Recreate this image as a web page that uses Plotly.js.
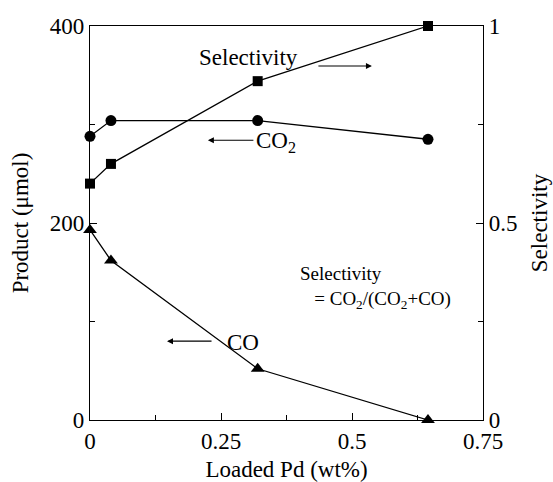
<!DOCTYPE html>
<html>
<head>
<meta charset="utf-8">
<script src="https://cdn.plot.ly/plotly-3.0.1.min.js"></script>
<style>html,body{margin:0;padding:0;background:#fff;}#chart{width:553px;height:482px;}</style>
</head>
<body>
<div id="chart"></div>
<script>
// Data
var loadedPd = [0, 0.04, 0.32, 0.645];
var co2Product = [288, 304, 304, 285];
var coProduct = [193, 162, 52, 0];
var selectivity = [0.60, 0.65, 0.86, 1.0];

var xTickVals = [0, 0.25, 0.5, 0.75];
var xTickText = ['0', '0.25', '0.5', '0.75'];
var yTickVals = [0, 200, 400];
var y2TickVals = [0, 0.5, 1];
var y2TickText = ['0', '0.5', '1'];

var FONT = 'Liberation Serif, Times New Roman, Times, serif';
var FS = 23;
var line = {color: '#000', width: 1.3};

var traces = [
  {x: loadedPd, y: co2Product, mode: 'lines+markers', name: 'CO2', cliponaxis: false,
   line: line, marker: {symbol: 'circle', size: 11, color: '#000'}},
  {x: loadedPd, y: coProduct, mode: 'lines+markers', name: 'CO', cliponaxis: false,
   line: line, marker: {symbol: 'triangle-up', size: 12, color: '#000'}},
  {x: loadedPd, y: selectivity, yaxis: 'y2', mode: 'lines+markers', name: 'Selectivity', cliponaxis: false,
   line: line, marker: {symbol: 'square', size: 10, color: '#000'}}
];

function arrow(x, y, ax) {
  return {x: x, y: y, xref: 'x', yref: 'y', text: '', showarrow: true,
    ax: ax, ay: 0, arrowhead: 2, arrowsize: 1, arrowwidth: 1.2, arrowcolor: '#000'};
}

var layout = {
  width: 553, height: 482,
  margin: {l: 90, r: 70, t: 26, b: 62},
  paper_bgcolor: '#fff', plot_bgcolor: '#fff',
  showlegend: false,
  font: {family: FONT, size: FS, color: '#000'},
  xaxis: {
    range: [0, 0.75], tickvals: xTickVals, ticktext: xTickText,
    ticks: 'inside', ticklen: 7, tickwidth: 1, tickcolor: '#000',
    minor: {dtick: 0.125, tick0: 0, ticks: 'inside', ticklen: 5, tickcolor: '#000'},
    showline: true, linecolor: '#000', linewidth: 1.2, mirror: true,
    showgrid: false, zeroline: false,
    tickfont: {family: FONT, size: FS},
    title: {text: 'Loaded Pd (wt%)', font: {family: FONT, size: FS}, standoff: 9}
  },
  yaxis: {
    range: [0, 400], tickvals: yTickVals,
    ticks: 'inside', ticklen: 7, tickwidth: 1, tickcolor: '#000',
    minor: {dtick: 100, tick0: 0, ticks: 'inside', ticklen: 5, tickcolor: '#000'},
    showline: true, linecolor: '#000', linewidth: 1.2,
    showgrid: false, zeroline: false,
    tickfont: {family: FONT, size: FS},
    title: {text: 'Product (μmol)', font: {family: FONT, size: FS}, standoff: 14}
  },
  yaxis2: {
    overlaying: 'y', side: 'right', range: [0, 1],
    tickvals: y2TickVals, ticktext: y2TickText,
    ticks: 'inside', ticklen: 7, tickwidth: 1, tickcolor: '#000',
    minor: {dtick: 0.25, tick0: 0, ticks: 'inside', ticklen: 5, tickcolor: '#000'},
    showline: true, linecolor: '#000', linewidth: 1.2,
    showgrid: false, zeroline: false,
    tickfont: {family: FONT, size: FS},
    title: {text: 'Selectivity', font: {family: FONT, size: FS}, standoff: 14}
  },
  annotations: [
    {x: 0.302, y: 368.5, xref: 'x', yref: 'y', text: 'Selectivity', showarrow: false,
     font: {family: FONT, size: FS}},
    arrow(0.538, 359.4, -55),
    {x: 0.355, y: 282, xref: 'x', yref: 'y', text: 'CO<sub>2</sub>', showarrow: false,
     font: {family: FONT, size: FS}},
    arrow(0.225, 284, 47),
    {x: 0.292, y: 79, xref: 'x', yref: 'y', text: 'CO', showarrow: false,
     font: {family: FONT, size: FS}},
    arrow(0.147, 80, 46),
    {x: 0.397, y: 135, xref: 'x', yref: 'y', xanchor: 'left', align: 'left',
     text: 'Selectivity<br>   = CO<sub>2</sub>/(CO<sub>2</sub>+CO)', showarrow: false,
     font: {family: FONT, size: 19}}
  ]
};

Plotly.newPlot('chart', traces, layout, {displayModeBar: false, staticPlot: true});
</script>
</body>
</html>
